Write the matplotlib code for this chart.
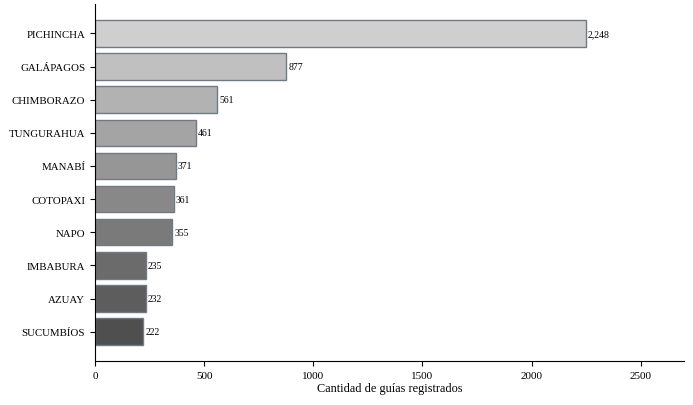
import matplotlib.pyplot as plt
import numpy as np

provincias = ['PICHINCHA', 'GALÁPAGOS', 'CHIMBORAZO', 'TUNGURAHUA', 'MANABÍ',
              'COTOPAXI', 'NAPO', 'IMBABURA', 'AZUAY', 'SUCUMBÍOS']
guias = [2248, 877, 561, 461, 371, 361, 355, 235, 232, 222]

plt.rcParams['font.family'] = ['Liberation Serif', 'DejaVu Serif']

fig = plt.figure(figsize=(6.93, 4.06), dpi=100)
ax = fig.add_axes([0.137, 0.108, 0.850, 0.880])

grises = np.linspace(0.81, 0.31, len(provincias))
colores = [(g, g, g) for g in grises]
pos = np.arange(len(provincias))
bars = ax.barh(pos, guias, height=0.8, color=colores,
               edgecolor='#6f7a86', linewidth=1.0)
ax.invert_yaxis()
ax.set_yticks(pos)
ax.set_yticklabels(provincias, fontsize=7.8)
ax.set_xlim(0, max(guias) * 1.2)
ax.tick_params(axis='x', labelsize=8)

for b, v in zip(bars, guias):
    ax.text(b.get_width() + 8, b.get_y() + b.get_height() / 2, f'{v:,}',
            va='center', ha='left', fontsize=7)

ax.set_xlabel('Cantidad de guías registrados', fontsize=8.8, labelpad=1.5)
ax.spines['top'].set_visible(False)
ax.spines['right'].set_visible(False)

plt.savefig('out.png')
